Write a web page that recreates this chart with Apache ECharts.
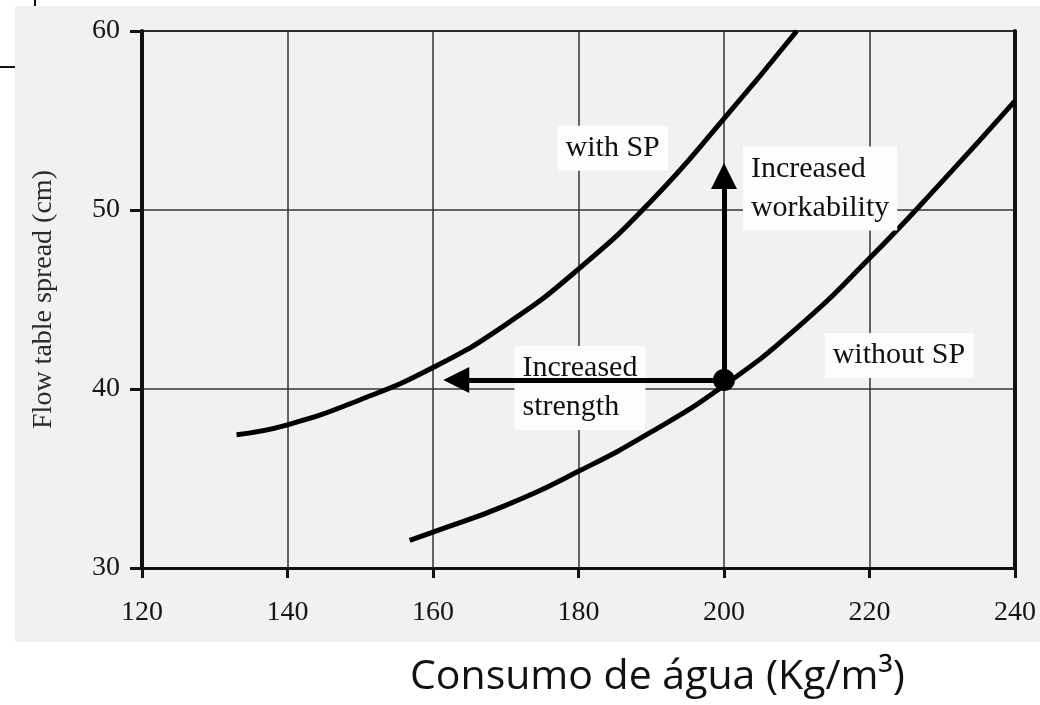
<!DOCTYPE html>
<html>
<head>
<meta charset="utf-8">
<script src="https://cdn.jsdelivr.net/npm/echarts@6/dist/echarts.min.js"></script>
<style>
html,body{margin:0;padding:0;background:#fff;}
#chart{width:1040px;height:705px;}
</style>
</head>
<body>
<div id="chart"></div>
<script>
// ---- data ----
const xTicks = [120, 140, 160, 180, 200, 220, 240];
const yTicks = [30, 40, 50, 60];
const withSP = [[133, 37.45], [140, 38.0], [150, 39.4], [160, 41.2], [170, 43.6], [180, 46.7], [190, 50.5], [200, 55.1], [210, 60.0]];
const withoutSP = [[156.8, 31.55], [160, 32.0], [170, 33.5], [180, 35.4], [190, 37.6], [200, 40.2], [210, 43.4], [220, 47.3], [230, 51.6], [240, 56.1]];
const refPoint = [200, 40.5];
const arrowWorkability = [[200, 40.5], [200, 51.9]];
const arrowStrength = [[200, 40.5], [163.2, 40.5]];
const labels = [
  { name: 'with SP', value: [184.7, 53.45] },
  { name: 'Increased\nworkability', value: [202.6, 51.2], align: 'left' },
  { name: 'without SP', value: [224.05, 41.87] },
  { name: 'Increased\nstrength', value: [171.2, 40.05], align: 'left' }
];
const xTitle = 'Consumo de água (Kg/m³)';
const yTitle = 'Flow table spread (cm)';

const serif = '"Liberation Serif", "Times New Roman", serif';
const chart = echarts.init(document.getElementById('chart'), null, { renderer: 'canvas' });

const option = {
  backgroundColor: '#ffffff',
  animation: false,
  grid: { left: 142, right: 25, top: 31, bottom: 137, show: true, borderColor: '#111', borderWidth: 2, backgroundColor: 'transparent' },
  xAxis: {
    type: 'value', min: 120, max: 240, interval: 20,
    axisLine: { lineStyle: { color: '#111', width: 3 } },
    axisTick: { show: true, length: 10, lineStyle: { color: '#111', width: 3 } },
    axisLabel: { color: '#151515', fontFamily: serif, fontSize: 28, margin: 31 },
    splitLine: { show: true, lineStyle: { color: '#333', width: 1.5 } }
  },
  yAxis: [{
    type: 'value', min: 30, max: 60, interval: 10,
    name: yTitle, nameLocation: 'middle', nameGap: 84, nameRotate: 90,
    nameTextStyle: { color: '#2a2a2a', fontFamily: serif, fontSize: 28 },
    axisLine: { show: true, lineStyle: { color: '#111', width: 4 } },
    axisTick: { show: true, length: 12, lineStyle: { color: '#111', width: 3 } },
    axisLabel: { color: '#151515', fontFamily: serif, fontSize: 28, margin: 22 },
    splitLine: { show: true, lineStyle: { color: '#333', width: 1.5 } }
  }, {
    type: 'value', min: 30, max: 60, interval: 10, position: 'right',
    axisLine: { show: true, lineStyle: { color: '#111', width: 4 } },
    axisTick: { show: false }, axisLabel: { show: false }, splitLine: { show: false }
  }],
  graphic: [
    { type: 'rect', z: -10, shape: { x: 15, y: 6, width: 1025, height: 636 }, style: { fill: '#f1f1f1' } },
    { type: 'line', z: -5, shape: { x1: 0, y1: 67, x2: 15, y2: 67 }, style: { stroke: '#111', lineWidth: 2 } },
    { type: 'line', z: -5, shape: { x1: 35, y1: 0, x2: 35, y2: 6 }, style: { stroke: '#111', lineWidth: 2 } },
    { type: 'text', left: 410, top: 657, style: { text: xTitle, fill: '#111', font: '41px "Open Sans", "Noto Sans", sans-serif' } }
  ],
  series: [
    { type: 'line', name: 'with SP', data: withSP, smooth: 0.5, showSymbol: false, z: 4,
      lineStyle: { color: '#000', width: 5 } },
    { type: 'line', name: 'without SP', data: withoutSP, smooth: 0.5, showSymbol: false, z: 4,
      lineStyle: { color: '#000', width: 5 } },
    { type: 'scatter', name: 'labels', z: 5, symbolSize: 0, silent: true,
      itemStyle: { opacity: 1, color: '#111' },
      data: labels.map(l => ({ name: l.name, value: l.value,
        label: { show: true, position: 'inside', formatter: l.name, align: l.align || 'center',
          color: '#111', opacity: 1, fontFamily: serif, fontSize: 30, lineHeight: 39,
          backgroundColor: '#fdfdfd', padding: [3, 8, 3, 8] } })) },
    { type: 'lines', coordinateSystem: 'cartesian2d', z: 8, silent: true,
      symbol: ['none', 'triangle'], symbolSize: [24, 26],
      lineStyle: { color: '#000', width: 5, opacity: 1 },
      data: [{ coords: arrowWorkability }, { coords: arrowStrength }] },
    { type: 'scatter', name: 'point', z: 9, symbol: 'circle', symbolSize: 22,
      itemStyle: { color: '#000', opacity: 1 }, data: [refPoint] }
  ]
};
chart.setOption(option);
</script>
</body>
</html>
